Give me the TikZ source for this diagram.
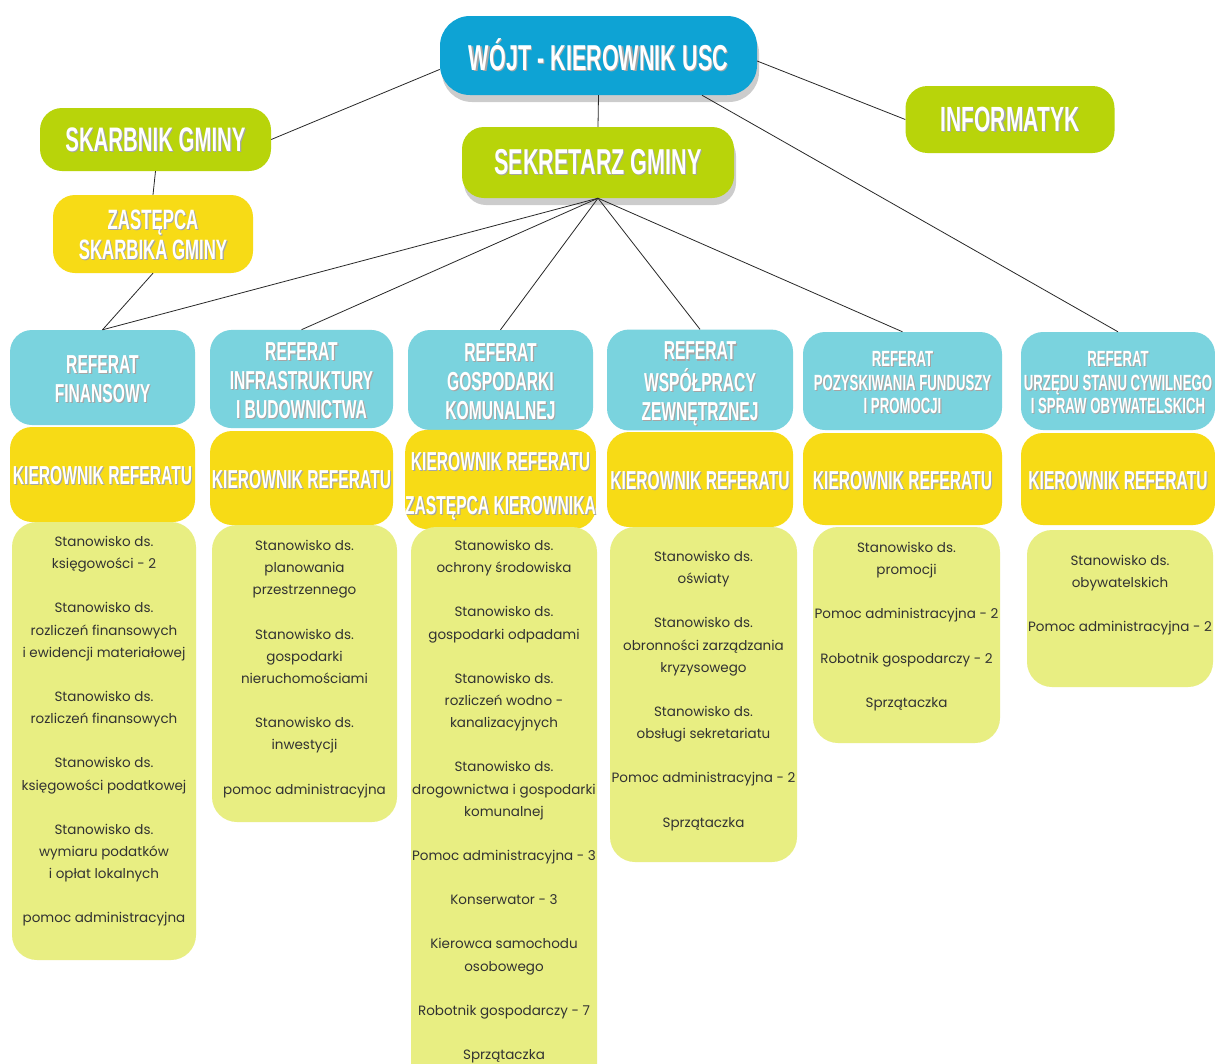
\documentclass[tikz,border=0pt]{standalone}
\usepackage{fontspec}
\setmainfont{Poppins}
\newfontfamily\hfont{Liberation Sans}[FakeStretch=0.6]
\usetikzlibrary{shadows,calc}
\definecolor{cBlue}{RGB}{14,163,212}
\definecolor{cLime}{RGB}{184,212,10}
\definecolor{cYel}{RGB}{247,219,22}
\definecolor{cCyan}{RGB}{122,211,222}
\definecolor{cPale}{RGB}{232,238,130}
\definecolor{cTxt}{RGB}{50,50,50}
\definecolor{cLine}{RGB}{40,40,40}
\definecolor{cShd}{RGB}{165,165,165}
\newcommand\hsz[2]{\fontsize{#1}{#2}\selectfont}
\newcommand\shtab[1]{\begin{tabular}{@{}c@{}}#1\end{tabular}}
\newcommand\sh[1]{\raisebox{0pt}[\dimexpr\height+10pt\relax]{\rlap{\hspace{1.1pt}\raisebox{-1.2pt}{\color{cShd}\shtab{#1}}}\shtab{#1}}}
\begin{document}
\begin{tikzpicture}[x=1pt,y=-1pt,
 hbox/.style={rectangle, rounded corners=22pt, inner sep=0pt, align=center, text=white},
 shad/.style={drop shadow={shadow xshift=2pt, shadow yshift=-7pt, opacity=0.2, fill=black}},
 refbox/.style={hbox, fill=cCyan, font=\hfont\bfseries\hsz{26}{29}},
 refsmall/.style={refbox, font=\hfont\bfseries\hsz{22}{23.5}},
 kierbox/.style={hbox, fill=cYel, font=\hfont\bfseries\hsz{26}{28}},
 bodybox/.style={rectangle, rounded corners=25pt, fill=cPale, inner sep=0pt},
 bodytxt/.style={align=center, text=cTxt, font=\hsz{13.5}{22.2}, inner sep=0pt, anchor=north},
 link/.style={draw=cLine, line width=0.8pt}
]
\path[use as bounding box, fill=white] (0,0) rectangle (1215,1063);

% top level
\node[hbox, shad, fill=cBlue, minimum width=317pt, minimum height=79pt, rounded corners=30pt,
      font=\hfont\bfseries\hsz{36}{38}] (wojt) at (598.5,55.5) {\sh{WÓJT - KIEROWNIK USC}};
\node[hbox, fill=cLime, minimum width=231pt, minimum height=63pt,
      font=\hfont\bfseries\hsz{34}{36}] (skarbnik) at (155.5,139.5) {\sh{SKARBNIK GMINY}};
\node[hbox, fill=cYel, minimum width=200pt, minimum height=78pt,
      font=\hfont\bfseries\hsz{28}{30}] (zast) at (153,234) {\sh{ZASTĘPCA\\SKARBIKA GMINY}};
\node[hbox, shad, fill=cLime, minimum width=272pt, minimum height=71pt,
      font=\hfont\bfseries\hsz{36}{38}] (sekretarz) at (598,162.5) {\sh{SEKRETARZ GMINY}};
\node[hbox, fill=cLime, minimum width=209pt, minimum height=67pt,
      font=\hfont\bfseries\hsz{35}{37}] (informatyk) at (1010,119.5) {\sh{INFORMATYK}};

% referat headers
\node[refbox, minimum width=185pt, minimum height=95pt] (r1) at (102.5,377.5) {\sh{REFERAT\\FINANSOWY}};
\node[refbox, minimum width=183pt, minimum height=98pt] (r2) at (301.5,379) {\sh{REFERAT\\INFRASTRUKTURY\\I BUDOWNICTWA}};
\node[refbox, minimum width=185pt, minimum height=100pt] (r3) at (500.5,380) {\sh{REFERAT\\GOSPODARKI\\KOMUNALNEJ}};
\node[refbox, minimum width=186pt, minimum height=100pt] (r4) at (700,380) {\sh{REFERAT\\WSPÓŁPRACY\\ZEWNĘTRZNEJ}};
\node[refsmall, minimum width=199pt, minimum height=98pt] (r5) at (902.5,381) {\sh{REFERAT\\POZYSKIWANIA FUNDUSZY\\I PROMOCJI}};
\node[refsmall, minimum width=194pt, minimum height=98pt] (r6) at (1118,381) {\sh{REFERAT\\URZĘDU STANU CYWILNEGO\\I SPRAW OBYWATELSKICH}};

% kierownik boxes
\node[kierbox, minimum width=185pt, minimum height=95pt] (k1) at (102.5,474.5) {\sh{KIEROWNIK REFERATU}};
\node[kierbox, minimum width=183pt, minimum height=94pt] (k2) at (301.5,478) {\sh{KIEROWNIK REFERATU}};
\node[kierbox, minimum width=185pt, minimum height=95pt, font=\hfont\bfseries\hsz{26}{44}] (k3) at (500.5,479.5) {\sh{KIEROWNIK REFERATU\\ZASTĘPCA KIEROWNIKA}};
\node[kierbox, minimum width=186pt, minimum height=95pt] (k4) at (700,479.5) {\sh{KIEROWNIK REFERATU}};
\node[kierbox, minimum width=199pt, minimum height=92pt] (k5) at (902.5,479) {\sh{KIEROWNIK REFERATU}};
\node[kierbox, minimum width=194pt, minimum height=92pt] (k6) at (1118,479) {\sh{KIEROWNIK REFERATU}};

% bodies
\node[bodybox, minimum width=184pt, minimum height=438pt] (b1) at (104,741) {};
\node[bodybox, minimum width=185pt, minimum height=297pt] (b2) at (304.5,673.5) {};
\node[bodybox, minimum width=186pt, minimum height=563pt] (b3) at (504,808.5) {};
\node[bodybox, minimum width=187pt, minimum height=335pt] (b4) at (703.5,694.5) {};
\node[bodybox, minimum width=187pt, minimum height=216pt] (b5) at (906.5,635) {};
\node[bodybox, minimum width=186pt, minimum height=157pt] (b6) at (1120,608.5) {};

\node[bodytxt] (t1) at (104,536) {Stanowisko ds.\\księgowości - 2\\[22pt]Stanowisko ds.\\rozliczeń finansowych\\i ewidencji materiałowej\\[22pt]Stanowisko ds.\\rozliczeń finansowych\\[22pt]Stanowisko ds.\\księgowości podatkowej\\[22pt]Stanowisko ds.\\wymiaru podatków\\i opłat lokalnych\\[22pt]pomoc administracyjna};
\node[bodytxt] (t2) at (304.5,540) {Stanowisko ds.\\planowania\\przestrzennego\\[22pt]Stanowisko ds.\\gospodarki\\nieruchomościami\\[22pt]Stanowisko ds.\\inwestycji\\[22pt]pomoc administracyjna};
\node[bodytxt] (t3) at (504,540) {Stanowisko ds.\\ochrony środowiska\\[22pt]Stanowisko ds.\\gospodarki odpadami\\[22pt]Stanowisko ds.\\rozliczeń wodno -\\kanalizacyjnych\\[22pt]Stanowisko ds.\\drogownictwa i gospodarki\\komunalnej\\[22pt]Pomoc administracyjna - 3\\[22pt]Konserwator - 3\\[22pt]Kierowca samochodu\\osobowego\\[22pt]Robotnik gospodarczy - 7\\[22pt]Sprzątaczka};
\node[bodytxt] (t4) at (703.5,551) {Stanowisko ds.\\oświaty\\[22pt]Stanowisko ds.\\obronności zarządzania\\kryzysowego\\[22pt]Stanowisko ds.\\obsługi sekretariatu\\[22pt]Pomoc administracyjna - 2\\[22pt]Sprzątaczka};
\node[bodytxt] (t5) at (906.5,542) {Stanowisko ds.\\promocji\\[22pt]Pomoc administracyjna - 2\\[22pt]Robotnik gospodarczy - 2\\[22pt]Sprzątaczka};
\node[bodytxt] (t6) at (1120,555) {Stanowisko ds.\\obywatelskich\\[22pt]Pomoc administracyjna - 2};

% connectors
\draw[link] (wojt.185) -- (skarbnik.east);
\draw[link] (wojt.south) -- (sekretarz.north);
\draw[link] (wojt.-2) -- (informatyk.west);
\draw[link] (wojt.-21.8) -- (r6.north);
\draw[link] (skarbnik.south) -- (zast.north);
\draw[link] (zast.south) -- (r1.north);
\foreach \r in {r1,r2,r3,r4,r5} \draw[link] (sekretarz.south) -- (\r.north);
\end{tikzpicture}
\end{document}
